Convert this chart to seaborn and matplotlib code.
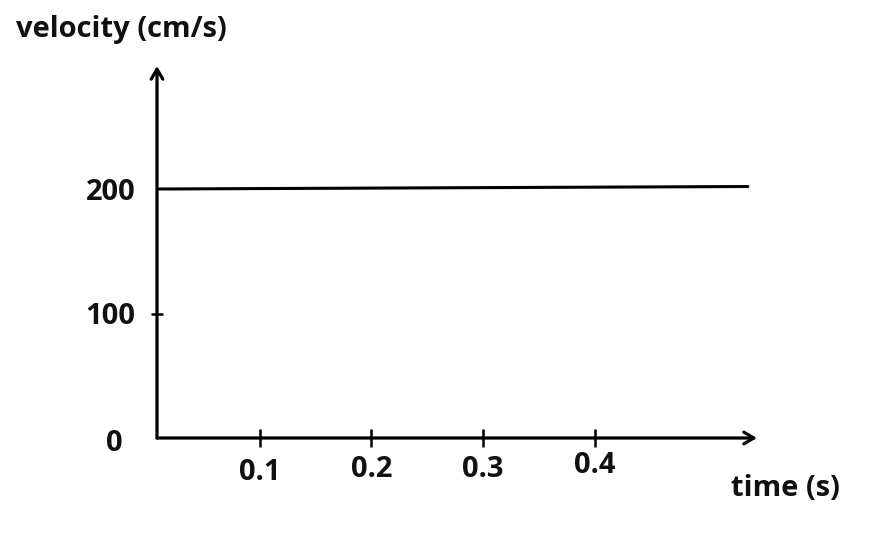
import matplotlib
matplotlib.use("Agg")
import matplotlib.pyplot as plt
import matplotlib.transforms as mtransforms
import seaborn as sns
import pandas as pd

time_s = [0.010, 0.537]
velocity = [200, 202]
x_ticks = [0.1, 0.2, 0.3, 0.4]
x_tick_labels = ["0.1", "0.2", "0.3", "0.4"]
y_ticks = [0, 100, 200]
y_tick_labels = ["0", "100", "200"]

sns.set_theme(style="white")
plt.rcParams["font.family"] = ["Open Sans", "DejaVu Sans"]
plt.rcParams["font.weight"] = "bold"

W, H = 886, 544
fig = plt.figure(figsize=(W / 100, H / 100), dpi=100)
L, R, B, T = 157, 757, 438, 66
ax = fig.add_axes([L / W, 1 - B / H, (R - L) / W, (B - T) / H])

# x pixel = 148 + 1117*x ; y pixel = 438 - 1.245*v
ax.set_xlim((L - 148) / 1117, (R - 148) / 1117)
ax.set_ylim(0, (B - T) / 1.245)

df = pd.DataFrame({"time": time_s, "velocity": velocity})
sns.lineplot(data=df, x="time", y="velocity", ax=ax, color="black", linewidth=2.2)

for s in ["top", "right", "left", "bottom"]:
    ax.spines[s].set_visible(False)

lw = 2.3
ax.annotate("", xy=(1.0, 0), xytext=(0, 0), xycoords="axes fraction",
            arrowprops=dict(arrowstyle="->,head_length=0.6,head_width=0.35",
                            lw=lw, color="black", shrinkA=0, shrinkB=0))
ax.annotate("", xy=(0, 1.0), xytext=(0, 0), xycoords="axes fraction",
            arrowprops=dict(arrowstyle="->,head_length=0.6,head_width=0.35",
                            lw=lw, color="black", shrinkA=0, shrinkB=0))

fs = 21
ax.set_xticks(x_ticks)
ax.set_xticklabels(x_tick_labels)
ax.set_yticks(y_ticks)
ax.set_yticklabels(y_tick_labels)
ax.tick_params(axis="x", bottom=True, direction="inout", length=13, width=1.8,
               color="black", pad=6, labelsize=fs, labelcolor="#111111")
ax.tick_params(axis="y", left=True, direction="inout", length=9, width=1.8,
               color="black", pad=11, labelsize=fs, labelcolor="#111111")
ax.set_xlabel("")
ax.set_ylabel("")
for lab in ax.get_xticklabels() + ax.get_yticklabels():
    lab.set_fontweight("bold")

# hide ticks at 0 and 200 on y (not drawn in reference)
yt = ax.yaxis.get_major_ticks()
yt[0].tick1line.set_visible(False)
yt[2].tick1line.set_visible(False)
# zero label sits further left and slightly lower
yt[0].label1.set_transform(yt[0].label1.get_transform() +
                           mtransforms.ScaledTranslation(-0.13, -0.02, fig.dpi_scale_trans))
# x labels hand-placed slight vertical offsets
offs = [-0.03, 0.0, 0.0, 0.04]
for t, o in zip(ax.xaxis.get_major_ticks(), offs):
    t.label1.set_transform(t.label1.get_transform() +
                           mtransforms.ScaledTranslation(0, o, fig.dpi_scale_trans))

fig.text(16 / W, 1 - 30 / H, "velocity (cm/s)", fontsize=fs, fontweight="bold",
         color="#111111", ha="left", va="center")
fig.text(785 / W, 1 - 488 / H, "time (s)", fontsize=fs, fontweight="bold",
         color="#111111", ha="center", va="center")

fig.savefig("out.png", dpi=100, facecolor="white")
